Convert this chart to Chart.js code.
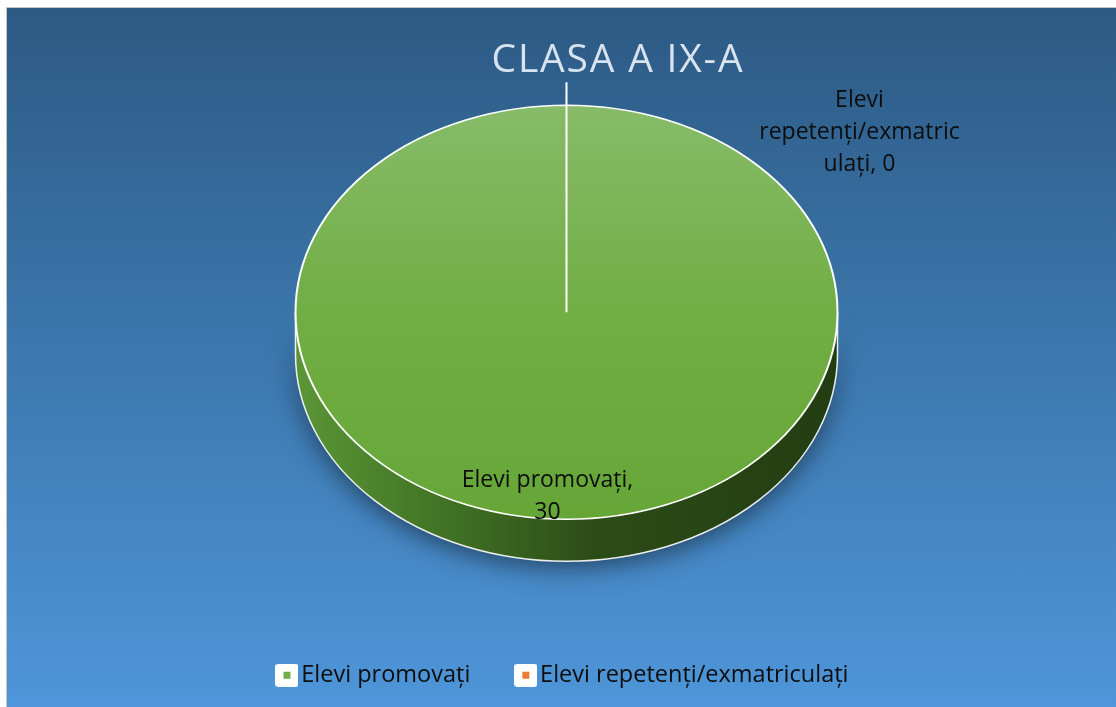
<!DOCTYPE html>
<html lang="ro">
<head>
  <meta charset="UTF-8">
  <title>Clasa a IX-a</title>
  <script src="https://cdn.jsdelivr.net/npm/chart.js"></script>
  <style>
    body {
      margin: 0;
      background: #fff;
    }

    .chart-box {
      position: absolute;
      left: 6px;
      top: 7px;
      width: 1110px;
      height: 700px;
      border-left: 1px solid #c6c6c6;
      border-top: 1px solid #c6c6c6;
      background: linear-gradient(to bottom, #2c5a83, #4e96da);
      overflow: hidden;
    }

    .chart-title {
      position: absolute;
      left: 411px;
      top: 26px;
      width: 400px;
      text-align: center;
      font: 39px/46px "Open Sans", sans-serif;
      letter-spacing: 1.8px;
      color: #d9e3ef;
      white-space: nowrap;
    }

    canvas {
      position: absolute;
      left: 0;
      top: 0;
    }
  </style>
</head>
<body>
  <div class="chart-box">
    <canvas id="pieChart" width="1110" height="700"></canvas>
    <div class="chart-title">CLASA A IX-A</div>
  </div>

  <script>
    const categories = ["Elevi promovaţi", "Elevi repetenți/exmatriculați"];
    const students = [30, 0];
    const sliceColors = ["#70ad47", "#ed7d31"];

    const pieRadius = 271;
    const labelFont = '23px "Open Sans"';

    // where each data label sits, relative to the squashed pie
    const labelLayout = [
      { anchor: "bottom", dx: -19, dy: -39, maxWidth: 190 },
      { anchor: "top", dx: 293, dy: -5, maxWidth: 205 },
    ];

    function topGradient(chart) {
      const area = chart.chartArea;
      if (!area) return sliceColors[0];
      const cy = (area.top + area.bottom) / 2;
      const g = chart.ctx.createLinearGradient(0, cy - pieRadius, 0, cy + pieRadius);
      g.addColorStop(0, "#87bb69");
      g.addColorStop(0.5, "#71ae44");
      g.addColorStop(1, "#66a637");
      return g;
    }

    function legendSwatch(color) {
      const c = document.createElement("canvas");
      c.width = 23;
      c.height = 23;
      const x = c.getContext("2d");
      x.fillStyle = "#fff";
      x.beginPath();
      x.roundRect(0, 0, 23, 23, 3);
      x.fill();
      x.fillStyle = color;
      x.fillRect(8, 8, 7, 7);
      return c;
    }

    function wrapText(ctx, text, maxWidth) {
      const lines = [];
      let line = "";
      for (const word of text.split(" ")) {
        const test = line ? line + " " + word : word;
        if (ctx.measureText(test).width <= maxWidth) {
          line = test;
          continue;
        }
        if (line) lines.push(line);
        line = "";
        // word longer than the box: break it by characters
        let piece = "";
        for (const ch of word) {
          if (ctx.measureText(piece + ch).width > maxWidth && piece) {
            lines.push(piece);
            piece = ch;
          } else {
            piece += ch;
          }
        }
        line = piece;
      }
      if (line) lines.push(line);
      return lines;
    }

    // fake 3D: side wall under the pie, then squash the pie into an ellipse
    const pie3d = {
      id: "pie3d",
      beforeDatasetsDraw(chart, args, opts) {
        const arc = chart.getDatasetMeta(0).data[0];
        const { x, y, outerRadius: r } = arc;
        const top = y - r;
        const ry = r * opts.tilt;
        const ey = top + ry;
        const d = opts.depth;
        const ctx = chart.ctx;

        ctx.save();
        const g = ctx.createLinearGradient(x - r, 0, x + r, 0);
        g.addColorStop(0, "#5a9636");
        g.addColorStop(0.3, "#3f6f23");
        g.addColorStop(0.55, "#2c4c17");
        g.addColorStop(1, "#233d12");
        ctx.beginPath();
        ctx.moveTo(x + r, ey);
        ctx.lineTo(x + r, ey + d);
        ctx.ellipse(x, ey + d, r, ry, 0, 0, Math.PI);
        ctx.lineTo(x - r, ey);
        ctx.ellipse(x, ey, r, ry, 0, Math.PI, 0, true);
        ctx.closePath();
        ctx.shadowColor = "rgba(0, 0, 0, 0.5)";
        ctx.shadowBlur = 26;
        ctx.shadowOffsetY = 6;
        ctx.fillStyle = g;
        ctx.fill();
        ctx.shadowColor = "transparent";
        ctx.strokeStyle = "rgba(255, 255, 255, 0.9)";
        ctx.lineWidth = 1.5;
        ctx.beginPath();
        ctx.moveTo(x + r, ey);
        ctx.lineTo(x + r, ey + d);
        ctx.ellipse(x, ey + d, r, ry, 0, 0, Math.PI);
        ctx.lineTo(x - r, ey);
        ctx.stroke();
        ctx.restore();

        ctx.save();
        ctx.translate(0, top);
        ctx.scale(1, opts.tilt);
        ctx.translate(0, -top);
      },
      afterDatasetsDraw(chart, args, opts) {
        const ctx = chart.ctx;
        ctx.restore();

        const meta = chart.getDatasetMeta(0);
        const { x, y, outerRadius: r } = meta.data[0];
        const top = y - r;
        const bottom = top + 2 * r * opts.tilt;

        // leader line above the zero slice
        ctx.save();
        ctx.strokeStyle = "#fff";
        ctx.lineWidth = 2;
        ctx.beginPath();
        ctx.moveTo(x, top);
        ctx.lineTo(x, top - 23);
        ctx.stroke();

        ctx.font = labelFont;
        ctx.fillStyle = "#0d0d0d";
        ctx.textAlign = "center";
        ctx.textBaseline = "middle";
        categories.forEach((cat, i) => {
          const pos = labelLayout[i];
          const lines = wrapText(ctx, cat + ", " + students[i], pos.maxWidth);
          const base = pos.anchor === "top" ? top : bottom;
          lines.forEach((ln, j) => {
            ctx.fillText(ln, x + pos.dx, base + pos.dy + j * opts.lineHeight);
          });
        });
        ctx.restore();
      },
    };

    function draw() {
      const ctx = document.getElementById("pieChart").getContext("2d");
      const pieLabels = Chart.overrides.pie.plugins.legend.labels.generateLabels;

      new Chart(ctx, {
        type: "pie",
        data: {
          labels: categories,
          datasets: [
            {
              data: students,
              backgroundColor: (c) => (c.dataIndex === 0 ? topGradient(c.chart) : sliceColors[c.dataIndex]),
              borderColor: "#ffffff",
              borderWidth: 2,
              clip: false,
            },
          ],
        },
        options: {
          responsive: false,
          animation: false,
          radius: pieRadius,
          layout: {
            padding: { top: 134, bottom: 11, left: 9, right: 0 },
          },
          plugins: {
            pie3d: { tilt: 0.764, depth: 42, lineHeight: 32 },
            legend: {
              position: "bottom",
              labels: {
                usePointStyle: true,
                pointStyleWidth: 5,
                padding: 53,
                color: "#0d0d0d",
                font: { family: "Open Sans", size: 23.5 },
                generateLabels(chart) {
                  return pieLabels(chart).map((item, i) => {
                    item.pointStyle = legendSwatch(sliceColors[i]);
                    return item;
                  });
                },
              },
            },
            tooltip: { enabled: false },
          },
        },
        plugins: [pie3d],
      });
    }

    document.fonts.load(labelFont).then(draw, draw);
  </script>
</body>
</html>
